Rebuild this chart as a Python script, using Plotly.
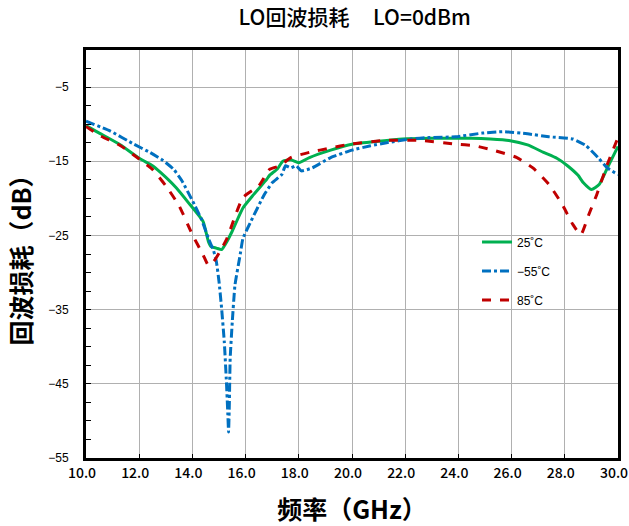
import plotly.graph_objects as go

# Frequency (GHz) and return loss (dB) for each temperature
freq_25 = [10.0, 10.5, 11.3, 12.0, 12.5, 12.8, 13.4, 13.9, 14.4, 14.6, 14.7, 14.9, 15.1, 15.3, 15.5,
           15.9, 16.3, 16.8, 16.9, 17.2, 17.4, 17.7, 18.0, 18.4, 19.2, 20.0, 21.0, 21.9, 23.0, 23.9,
           24.5, 25.2, 25.9, 26.6, 27.2, 27.7, 28.1, 28.5, 28.7, 29.0, 29.3, 29.6, 30.0]
rl_25 = [-10.2, -11.2, -12.8, -14.6, -15.6, -16.5, -18.6, -20.8, -23.1, -25.8, -26.5, -26.7, -26.9, -25.8, -24.4,
         -21.3, -19.5, -17.4, -16.9, -16.0, -15.0, -14.8, -15.2, -14.5, -13.5, -12.7, -12.3, -12.0, -11.9, -11.9,
         -11.9, -12.0, -12.2, -12.8, -13.8, -14.6, -15.6, -16.9, -17.9, -18.8, -18.1, -15.9, -13.0]

freq_m55 = [10.0, 10.9, 11.8, 12.4, 12.9, 13.3, 13.6, 14.0, 14.35, 14.6, 14.8, 14.9, 15.0, 15.1, 15.2,
            15.28, 15.33, 15.36, 15.39, 15.42, 15.5, 15.6, 15.8, 15.9, 16.2, 16.7, 17.0, 17.36, 17.5, 17.7,
            17.9, 18.1, 18.5, 19.2, 20.0, 20.7, 21.3, 22.2, 22.9, 23.9, 24.9, 25.7, 26.6, 27.4, 28.3,
            28.8, 29.25, 29.6, 30.0]
rl_m55 = [-9.6, -10.9, -12.7, -13.8, -14.9, -16.1, -17.6, -20.3, -22.9, -25.4, -27.1, -28.5, -31.2, -34.9, -39.4,
          -44.8, -48.9, -51.5, -47.5, -41.6, -36.6, -31.7, -27.5, -25.4, -23.1, -19.5, -17.9, -16.8, -15.6, -15.9,
          -15.6, -16.3, -15.9, -14.5, -13.5, -12.9, -12.5, -12.0, -11.8, -11.7, -11.2, -11.0, -11.3, -11.7, -12.0,
          -12.9, -14.5, -15.9, -16.8]

freq_85 = [10.0, 10.5, 11.3, 12.0, 12.5, 13.0, 13.5, 14.0, 14.4, 14.6, 14.8, 15.0, 15.3, 15.9, 16.5,
           16.9, 17.3, 17.7, 18.4, 19.2, 19.9, 21.2, 22.6, 23.9, 24.6, 25.3, 26.2, 26.8, 27.4, 27.9,
           28.3, 28.6, 28.9, 29.2, 29.6, 30.0]
rl_85 = [-10.3, -11.5, -12.9, -14.7, -16.1, -18.3, -21.0, -24.9, -27.6, -29.0, -28.5, -27.4, -25.4, -19.9, -18.3,
         -16.1, -15.6, -14.5, -13.8, -13.2, -12.7, -12.2, -12.2, -12.7, -12.9, -13.5, -14.5, -15.9, -18.1, -20.8,
         -23.5, -24.9, -22.2, -19.5, -15.4, -11.8]

x_ticks = [10.0, 12.0, 14.0, 16.0, 18.0, 20.0, 22.0, 24.0, 26.0, 28.0, 30.0]
y_ticks = [-5, -15, -25, -35, -45, -55]

CJK = "Noto Sans CJK SC"

fig = go.Figure()
fig.add_trace(go.Scatter(x=freq_25, y=rl_25, mode="lines", name="25˚C", legendgroup="a",
                         line=dict(color="#00b050", width=3, shape="spline", smoothing=0.5)))
fig.add_trace(go.Scatter(x=freq_m55, y=rl_m55, mode="lines", name="−55˚C", legendgroup="b",
                         line=dict(color="#0070c0", width=3, dash="dashdot", shape="spline", smoothing=0.4)))
fig.add_trace(go.Scatter(x=freq_85, y=rl_85, mode="lines", name="85˚C", legendgroup="c",
                         line=dict(color="#c00000", width=3, dash="dash", shape="spline", smoothing=0.5)))

fig.update_layout(
    width=629, height=526,
    margin=dict(l=86, r=11, t=50, b=68),
    paper_bgcolor="white", plot_bgcolor="white",
    title=dict(text="LO回波损耗     LO=0dBm", x=0.564, xanchor="center", y=0.966, yanchor="middle",
               font=dict(family=CJK, size=21, color="black", weight=500)),
    showlegend=True,
    legend=dict(x=0.735, y=0.565, xanchor="left", yanchor="top", bgcolor="rgba(0,0,0,0)",
                font=dict(family="Liberation Sans", size=12, color="black"),
                tracegroupgap=10, traceorder="grouped"),
)

fig.update_xaxes(
    range=[10, 30], tickvals=x_ticks, automargin=False, ticklabeloverflow="allow",
    tickformat=".1f", ticklabelshift=-4,
    tickfont=dict(family=CJK, size=14, color="black", weight=500),
    showgrid=True, gridcolor="#b0b0b0", gridwidth=1,
    showline=True, linecolor="black", linewidth=3, mirror=True,
    ticks="inside", ticklen=4, tickcolor="black",
    zeroline=False,
    title=dict(text="频率（GHz）", font=dict(family=CJK, size=25, color="black", weight="bold"), standoff=22),
)
fig.update_yaxes(
    range=[-55, 0], tickvals=y_ticks, automargin=False,
    tickfont=dict(family="Liberation Sans", size=12, color="black"),
    showgrid=True, gridcolor="#b0b0b0", gridwidth=1,
    showline=True, linecolor="black", linewidth=3, mirror=True,
    ticks="inside", ticklen=5, tickcolor="black", ticklabelstandoff=12,
    minor=dict(dtick=2.5, tick0=0, ticks="inside", ticklen=5, tickcolor="black", showgrid=False),
    zeroline=False,
    title=dict(text="回波损耗（dB）", font=dict(family=CJK, size=25, color="black", weight="bold"), standoff=10),
)

fig.write_html("out.html")
